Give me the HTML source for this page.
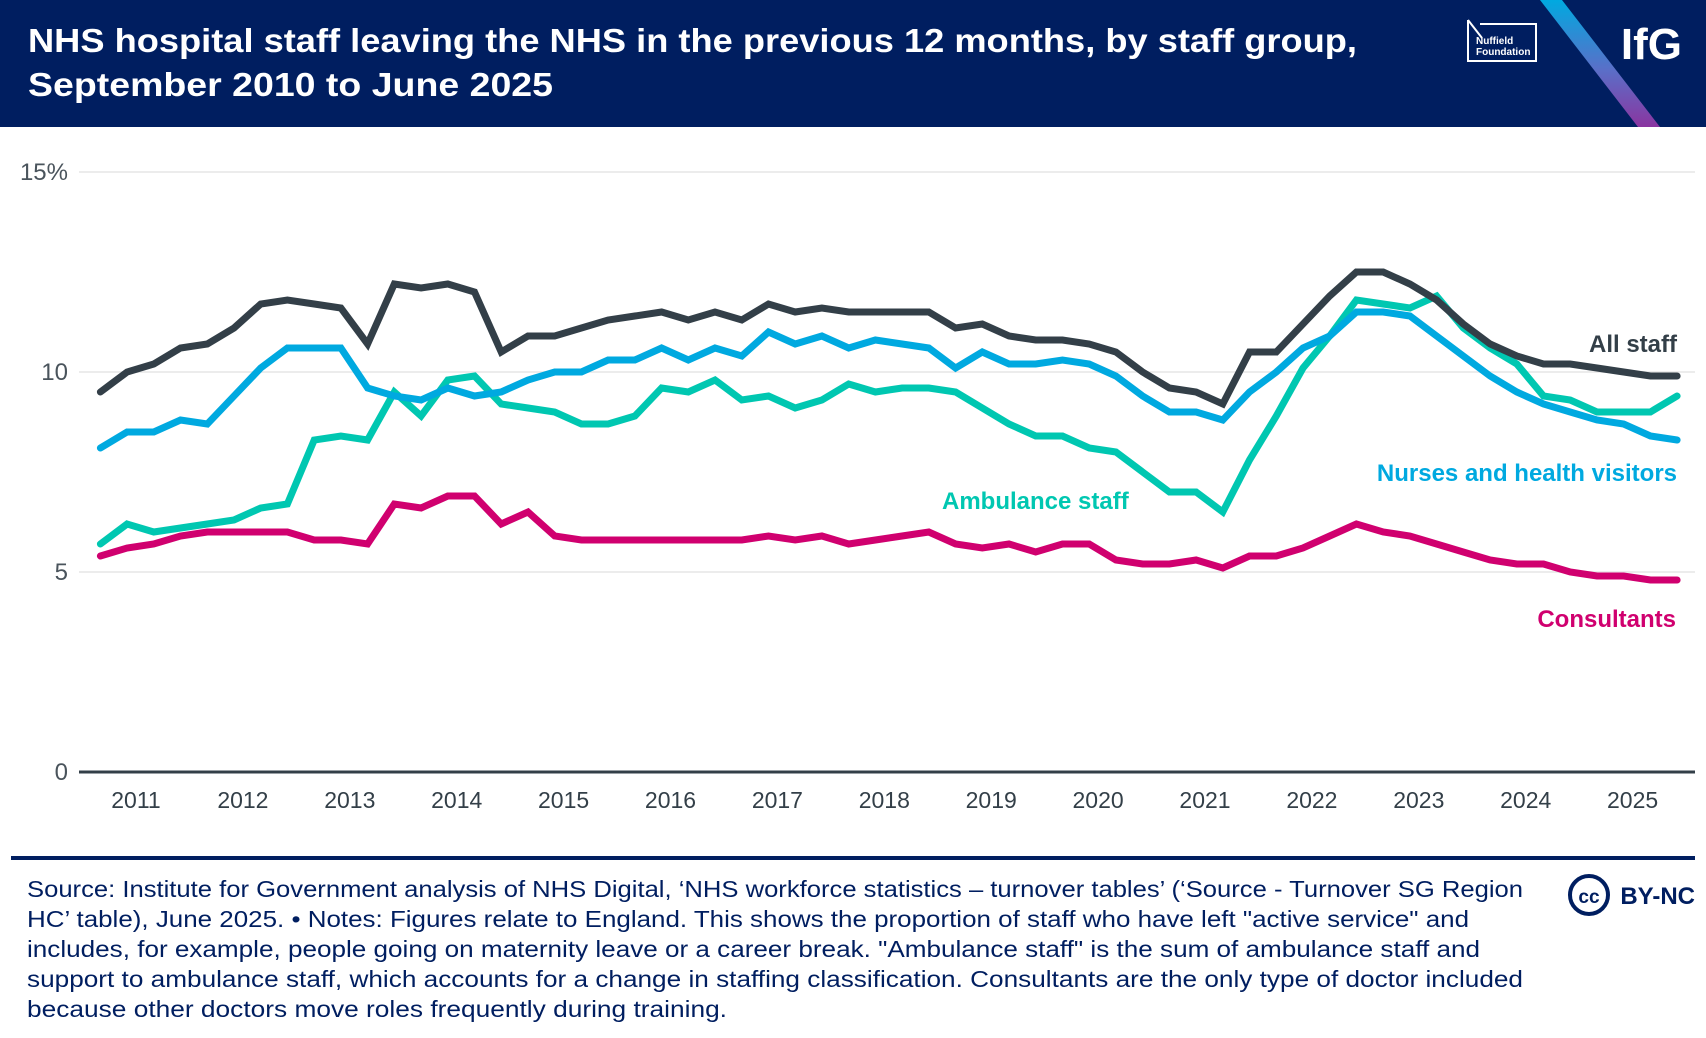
<!DOCTYPE html>
<html><head><meta charset="utf-8"><style>
html,body{margin:0;padding:0;background:#fff}
body{width:1706px;height:1038px;overflow:hidden;font-family:"Liberation Sans",sans-serif}
</style></head><body>
<svg width="1706" height="1038" viewBox="0 0 1706 1038" style="display:block">
<defs><linearGradient id="stripe" x1="0" y1="0" x2="0" y2="1"><stop offset="0" stop-color="#00a9e0"/><stop offset="0.55" stop-color="#5a6fc8"/><stop offset="1" stop-color="#8a35a0"/></linearGradient></defs>
<g>
<rect x="0" y="0" width="1706" height="127" fill="#001e60"/>
<text x="28" y="52" fill="#fff" font-size="33" font-weight="bold" textLength="1329" lengthAdjust="spacingAndGlyphs">NHS hospital staff leaving the NHS in the previous 12 months, by staff group,</text>
<text x="28" y="96" fill="#fff" font-size="33" font-weight="bold" textLength="525" lengthAdjust="spacingAndGlyphs">September 2010 to June 2025</text>
<g>
<path d="M1468 20 L1468 61 L1536 61 L1536 24 L1480 24" fill="none" stroke="#fff" stroke-width="2"/>
<path d="M1468 20 L1482 38" stroke="#fff" stroke-width="2"/>
<text x="1476" y="44" fill="#fff" font-size="10" font-weight="bold">Nuffield</text>
<text x="1476" y="55" fill="#fff" font-size="10" font-weight="bold">Foundation</text>
</g>
<polygon points="1540,0 1562,0 1660,127 1638,127" fill="url(#stripe)"/>
<text x="1682" y="59" fill="#fff" font-size="44" font-weight="bold" text-anchor="end">IfG</text>
</g>
<g id="plot"></g>
<rect x="11" y="856" width="1684" height="4" fill="#001e60"/>
<g fill="#001e60" font-size="23">
<text x="27" y="897" textLength="1496" lengthAdjust="spacingAndGlyphs">Source: Institute for Government analysis of NHS Digital, ‘NHS workforce statistics – turnover tables’ (‘Source - Turnover SG Region</text>
<text x="27" y="927" textLength="1442" lengthAdjust="spacingAndGlyphs">HC’ table), June 2025. • Notes: Figures relate to England. This shows the proportion of staff who have left "active service" and</text>
<text x="27" y="957" textLength="1453" lengthAdjust="spacingAndGlyphs">includes, for example, people going on maternity leave or a career break. "Ambulance staff" is the sum of ambulance staff and</text>
<text x="27" y="987" textLength="1496" lengthAdjust="spacingAndGlyphs">support to ambulance staff, which accounts for a change in staffing classification. Consultants are the only type of doctor included</text>
<text x="27" y="1017" textLength="700" lengthAdjust="spacingAndGlyphs">because other doctors move roles frequently during training.</text>
</g>
<g>
<circle cx="1589" cy="895" r="19" fill="none" stroke="#001e60" stroke-width="4"/>
<text x="1589" y="903" fill="#001e60" font-size="19" font-weight="bold" text-anchor="middle">cc</text>
<text x="1695" y="904" fill="#001e60" font-size="24" font-weight="bold" text-anchor="end">BY-NC</text>
</g>
</svg>
<script>
const yTicks=[0,5,10,15];
const yTickLabels=["0","5","10","15%"];
const years=[2011,2012,2013,2014,2015,2016,2017,2018,2019,2020,2021,2022,2023,2024,2025];
const allStaff=[9.5,10.0,10.2,10.6,10.7,11.1,11.7,11.8,11.7,11.6,10.7,12.2,12.1,12.2,12.0,10.5,10.9,10.9,11.1,11.3,11.4,11.5,11.3,11.5,11.3,11.7,11.5,11.6,11.5,11.5,11.5,11.5,11.1,11.2,10.9,10.8,10.8,10.7,10.5,10.0,9.6,9.5,9.2,10.5,10.5,11.2,11.9,12.5,12.5,12.2,11.8,11.2,10.7,10.4,10.2,10.2,10.1,10.0,9.9,9.9];
const nurses=[8.1,8.5,8.5,8.8,8.7,9.4,10.1,10.6,10.6,10.6,9.6,9.4,9.3,9.6,9.4,9.5,9.8,10.0,10.0,10.3,10.3,10.6,10.3,10.6,10.4,11.0,10.7,10.9,10.6,10.8,10.7,10.6,10.1,10.5,10.2,10.2,10.3,10.2,9.9,9.4,9.0,9.0,8.8,9.5,10.0,10.6,10.9,11.5,11.5,11.4,10.9,10.4,9.9,9.5,9.2,9.0,8.8,8.7,8.4,8.3];
const ambulance=[5.7,6.2,6.0,6.1,6.2,6.3,6.6,6.7,8.3,8.4,8.3,9.5,8.9,9.8,9.9,9.2,9.1,9.0,8.7,8.7,8.9,9.6,9.5,9.8,9.3,9.4,9.1,9.3,9.7,9.5,9.6,9.6,9.5,9.1,8.7,8.4,8.4,8.1,8.0,7.5,7.0,7.0,6.5,7.8,8.9,10.1,10.9,11.8,11.7,11.6,11.9,11.1,10.6,10.2,9.4,9.3,9.0,9.0,9.0,9.4];
const consultants=[5.4,5.6,5.7,5.9,6.0,6.0,6.0,6.0,5.8,5.8,5.7,6.7,6.6,6.9,6.9,6.2,6.5,5.9,5.8,5.8,5.8,5.8,5.8,5.8,5.8,5.9,5.8,5.9,5.7,5.8,5.9,6.0,5.7,5.6,5.7,5.5,5.7,5.7,5.3,5.2,5.2,5.3,5.1,5.4,5.4,5.6,5.9,6.2,6.0,5.9,5.7,5.5,5.3,5.2,5.2,5.0,4.9,4.9,4.8,4.8];
const startYear=2010+8/12; // September 2010
const NS="http://www.w3.org/2000/svg";
const plot=document.getElementById('plot');
function xYear(t){return 136+(t-2011)*106.9;}
function xIdx(i){return xYear(startYear+i*0.25);}
function yVal(v){return 772-v*40;}
function mk(tag,attrs){const e=document.createElementNS(NS,tag);for(const k in attrs)e.setAttribute(k,attrs[k]);plot.appendChild(e);return e;}
yTicks.forEach((v,k)=>{
  const g=mk('line',{x1:79,x2:1695,y1:yVal(v),y2:yVal(v),stroke:v===0?'#333f48':'#ececec','stroke-width':v===0?3:2});
  
  
  const t=mk('text',{x:68,y:yVal(v)+8,'text-anchor':'end','font-size':24,fill:'#4a545c'});
  t.textContent=yTickLabels[k];
  
  
});
years.forEach(y=>{
  const t=mk('text',{x:xYear(y),y:808,'text-anchor':'middle','font-size':23,fill:'#333f48'});
  t.textContent=String(y);
  
  
});
function series(arr,color,name){
  const d=arr.map((v,i)=>(i?'L':'M')+xIdx(i).toFixed(1)+' '+yVal(v).toFixed(1)).join(' ');
  const p=mk('path',{d:d,fill:'none',stroke:color,'stroke-width':7,'stroke-linejoin':'miter','stroke-linecap':'round'});
  
  
}
series(consultants,'#d0006f','consultants-line');
series(ambulance,'#00c7b1','ambulance-staff-line');
series(nurses,'#00a9e0','nurses-line');
series(allStaff,'#333f48','all-staff-line');
function label(txt,x,y,color,anchor,name){
  const t=mk('text',{x:x,y:y,'text-anchor':anchor,'font-size':24,'font-weight':'bold',fill:color});
  t.textContent=txt;
  
  
}
label('All staff',1677,352,'#333f48','end','all-staff-label');
label('Nurses and health visitors',1677,481,'#00a9e0','end','nurses-label');
label('Ambulance staff',942,509,'#00c7b1','start','ambulance-staff-label');
label('Consultants',1676,627,'#d0006f','end','consultants-label');
</script>
</body></html>
